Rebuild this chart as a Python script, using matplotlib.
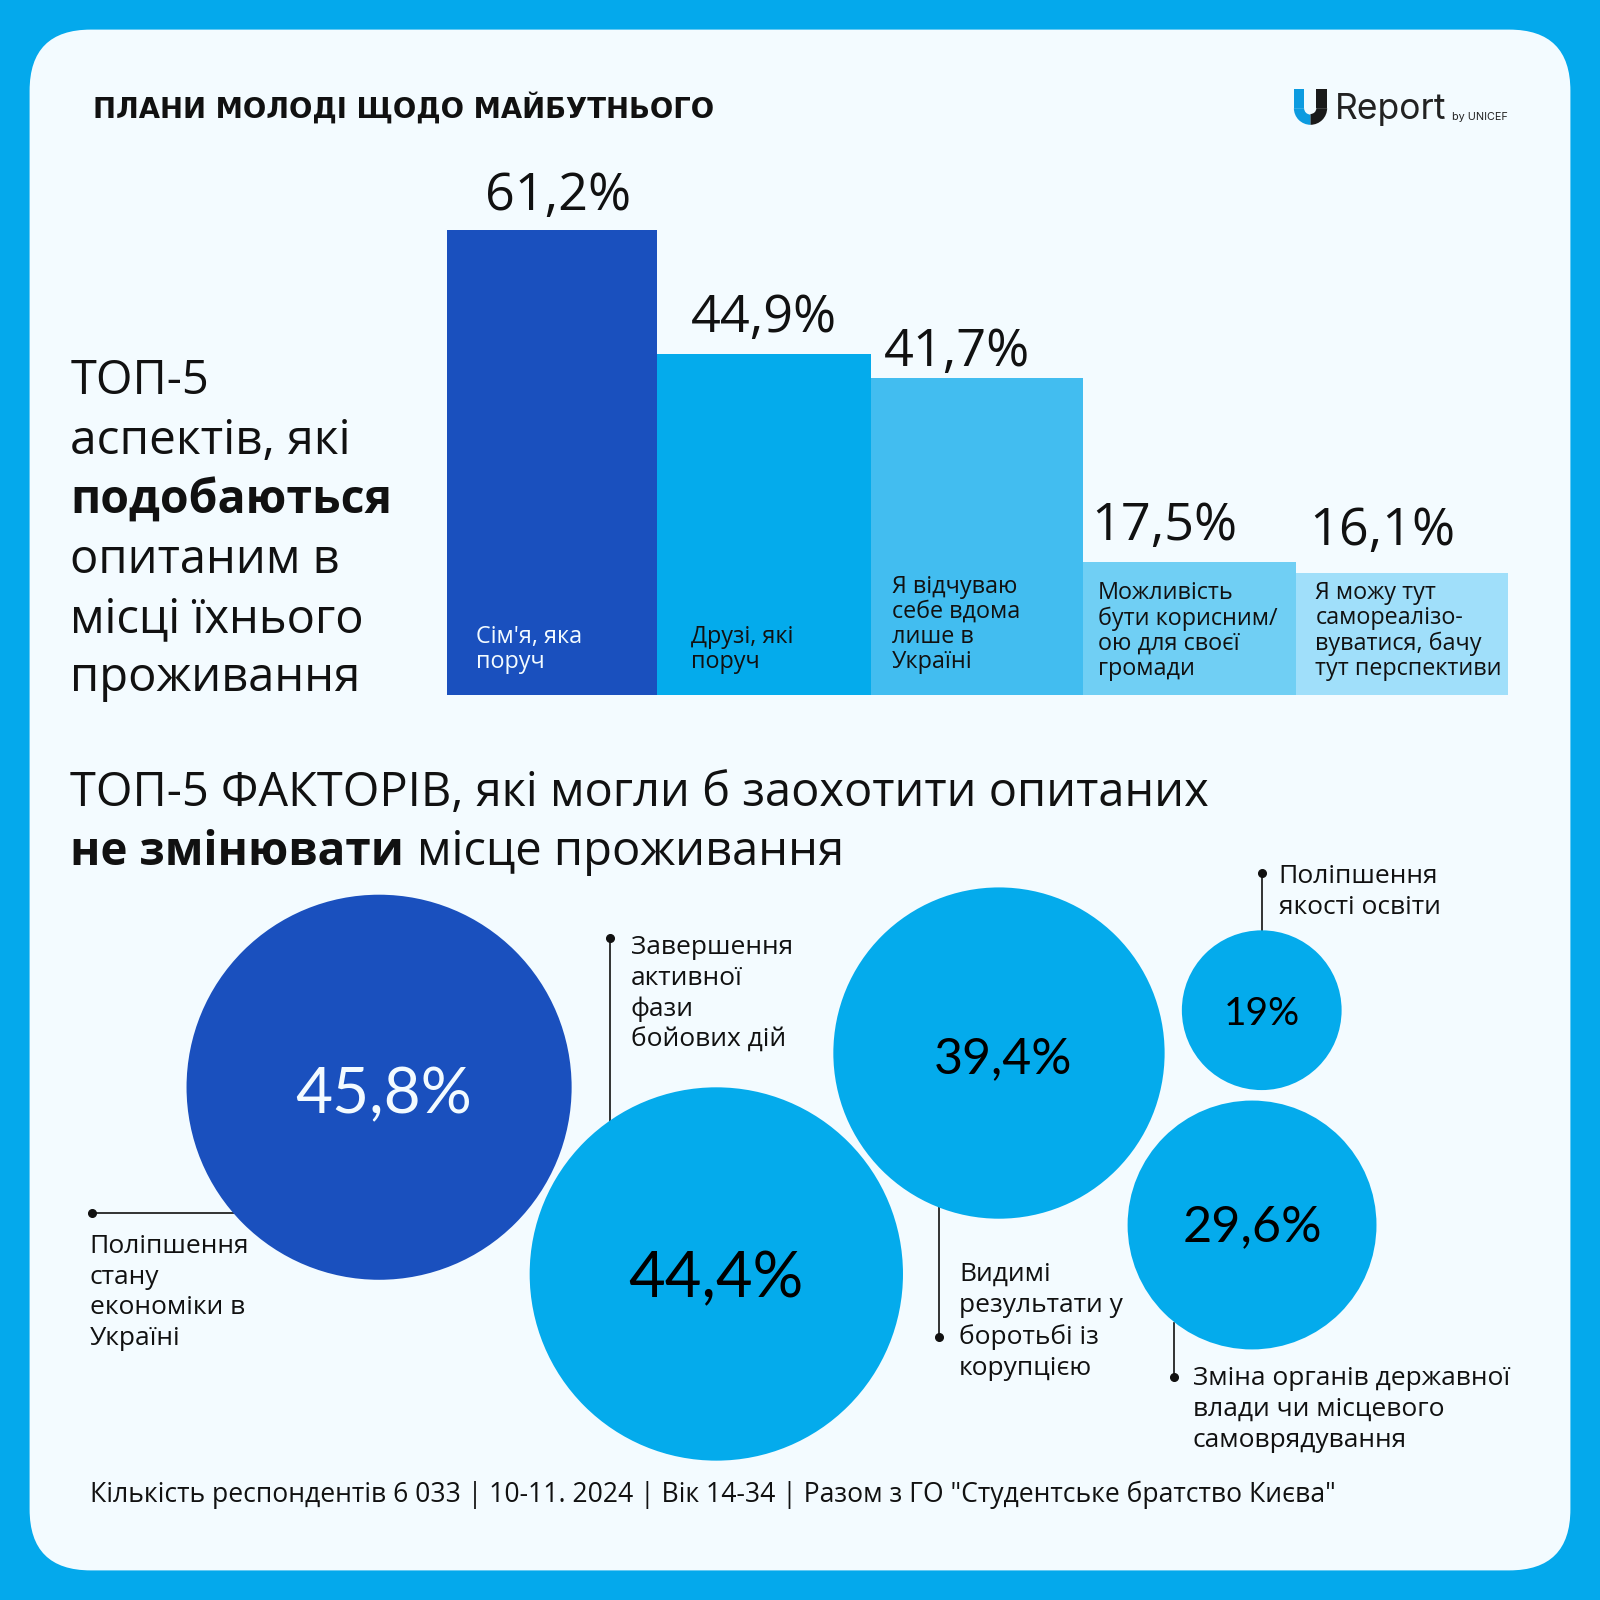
import matplotlib
matplotlib.use('Agg')
from matplotlib import pyplot as plt
from matplotlib.patches import Circle, FancyBboxPatch, Rectangle, Wedge

plt.rcParams['font.family'] = ['Open Sans', 'Noto Sans', 'DejaVu Sans']

# data
bar_values = [61.2, 44.9, 41.7, 17.5, 16.1]
bar_value_labels = ['61,2%', '44,9%', '41,7%', '17,5%', '16,1%']
bar_names = ["Сім'я, яка\nпоруч", 'Друзі, які\nпоруч', 'Я відчуваю\nсебе вдома\nлише в\nУкраїні',
             'Можливість\nбути корисним/\nою для своєї\nгромади', 'Я можу тут\nсамореалізо-\nвуватися, бачу\nтут перспективи']
bubble_values = [45.8, 44.4, 39.4, 19.0, 29.6]
bubble_labels = ['45,8%', '44,4%', '39,4%', '19%', '29,6%']
bubble_names = ['Поліпшення\nстану\nекономіки в\nУкраїні', 'Завершення\nактивної\nфази\nбойових дій',
                'Видимі\nрезультати у\nборотьбі із\nкорупцією', 'Поліпшення\nякості освіти',
                'Зміна органів державної\nвлади чи місцевого\nсамоврядування']

# layout, in pixels of a 1568 wide page
S = 1568
bar_edges = [438, 644, 854, 1061, 1270, 1478]
bar_colors = ['#1a50be', '#04abec', '#42bdf0', '#70cff4', '#a0dffa']
bar_text_colors = ['#f3fbff', '#111111', '#111111', '#111111', '#111111']
bar_value_x = [547, 749, 938, 1141, 1355]
bar_value_pad = [5.5, 7, 0, 7, 11.3]
bar_name_x = [466, 677, 874, 1076, 1289]
bar_name_pad = [15, 15, 15, 10, 10]
bubble_x = [371.5, 702, 979, 1236.5, 1227]
bubble_y = [1065.5, 1248.5, 1032, 990, 1200.5]
bubble_text_x = [376, 702, 983, 1236.5, 1227]
bubble_text_y = [1073, 1254, 1038, 994, 1203]
bubble_font = [46, 45.5, 36, 28, 36.3]
bubble_text_colors = ['#f3fbff', '#000000', '#000000', '#000000', '#000000']
bubble_colors = ['#1a50be', '#04abec', '#04abec', '#04abec', '#04abec']
# leader line: start (dot), end
leaders = [((90, 1189), (232, 1189)), ((598, 919), (598, 1100)), ((920, 1310), (920, 1182)),
           ((1237, 856), (1237, 912)), ((1151, 1349), (1151, 1297))]
name_pos = [(88, 1209), (618, 916), (940, 1237), (1253, 847), (1169, 1339)]
PX_PER_UNIT = 7.45
R_PER_UNIT = 4.12

fig = plt.figure(figsize=(16, 16), dpi=100, facecolor='#04a9ec')
ax = fig.add_axes([0, 0, 1, 1])
ax.set_xlim(0, S)
ax.set_ylim(S, 0)
ax.axis('off')

ax.add_patch(FancyBboxPatch((89, 89), 1390, 1390, boxstyle='round,pad=60,rounding_size=60',
                            fc='#f3fbff', ec='none'))

INK = '#111111'
ax.text(91, 115, 'ПЛАНИ МОЛОДІ ЩОДО МАЙБУТНЬОГО', fontsize=19.8, family='DejaVu Sans', weight='bold',
        color=INK, va='baseline')

# logo
ax.add_patch(Rectangle((1268, 87), 10, 19, fc='#0c9be0', ec='none'))
ax.add_patch(Wedge((1284.3, 106), 16.3, 90, 180, width=10, fc='#0c9be0', ec='none'))
ax.add_patch(Rectangle((1290, 87), 10.6, 19, fc='#1a1a1a', ec='none'))
ax.add_patch(Wedge((1284.3, 106), 16.3, 0, 90, width=10.6, fc='#1a1a1a', ec='none'))
ax.text(1308, 117, 'Report', fontsize=25.5, family='Inter', color='#222222', va='baseline')
ax.text(1423, 118, 'by UNICEF', fontsize=7.8, family='Inter', color='#222222', va='baseline')

# left heading
left_lines = [('ТОП-5', 'normal', 33.9), ('аспектів, які', 'normal', 34.4), ('подобаються', 'bold', 33.4),
              ('опитаним в', 'normal', 33.9), ('місці їхнього', 'normal', 33.9), ('проживання', 'normal', 33.9)]
for i, (line, w, size) in enumerate(left_lines):
    ax.text(69, 386.5 + 58.2 * i, line, fontsize=size, weight=w, color=INK, va='baseline')

# bars on their own percent axis
ax_bar = fig.add_axes([438 / S, 1 - 681 / S, (1478 - 438) / S, 456 / S])
ax_bar.set_xlim(438, 1478)
ax_bar.set_ylim(0, 456 / PX_PER_UNIT)
ax_bar.axis('off')
widths = [bar_edges[i + 1] - bar_edges[i] for i in range(5)]
ax_bar.bar(bar_edges[:5], bar_values, width=widths, align='edge', color=bar_colors)
for i in range(5):
    ax_bar.annotate(bar_value_labels[i], (bar_value_x[i], bar_values[i]), xytext=(0, bar_value_pad[i]),
                    textcoords='offset points', ha='center', va='bottom', fontsize=37.5,
                    color=INK, annotation_clip=False)
    ax_bar.annotate(bar_names[i], (bar_name_x[i], 0), xytext=(0, bar_name_pad[i]), textcoords='offset points',
                    ha='left', va='bottom', fontsize=16.8, linespacing=1.06,
                    color=bar_text_colors[i], annotation_clip=False)

# middle heading
ax.text(69, 790, 'ТОП-5 ФАКТОРІВ, які могли б заохотити опитаних', fontsize=33.85, color=INK, va='baseline')
ax.text(69, 848, 'не змінювати', fontsize=33, weight='bold', color=INK, va='baseline')
ax.text(409, 848, 'місце проживання', fontsize=33.9, color=INK, va='baseline')

# bubbles, diameter follows the value
for i in range(5):
    ax.add_patch(Circle((bubble_x[i], bubble_y[i]), bubble_values[i] * R_PER_UNIT,
                        fc=bubble_colors[i], ec='none', zorder=3))
    ax.text(bubble_text_x[i], bubble_text_y[i], bubble_labels[i], fontsize=bubble_font[i],
            family='Lato', color=bubble_text_colors[i], ha='center', va='center', zorder=4)
    (x0, y0), (x1, y1) = leaders[i]
    ax.plot([x0, x1], [y0, y1], color=INK, lw=1.2, zorder=2)
    ax.plot([x0], [y0], 'o', color=INK, ms=5.5, zorder=2)
    ax.text(name_pos[i][0], name_pos[i][1], bubble_names[i], fontsize=19, color=INK, va='top',
            linespacing=1.31, zorder=4)

ax.text(88, 1472, 'Кількість респондентів 6 033 | 10-11. 2024 | Вік 14-34 | Разом з ГО "Студентське братство Києва"',
        fontsize=19.12, color=INK, va='baseline')

fig.savefig('out.png', dpi=100, facecolor=fig.get_facecolor())
